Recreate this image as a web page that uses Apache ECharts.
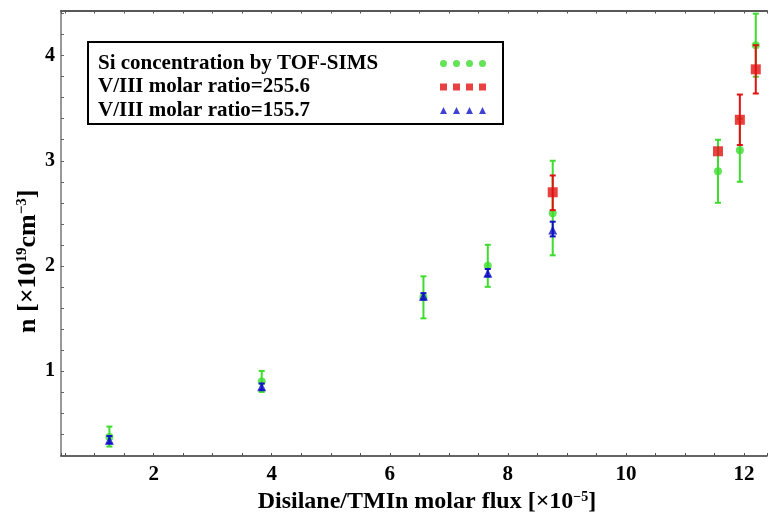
<!DOCTYPE html>
<html><head><meta charset="utf-8">
<script src="https://cdn.jsdelivr.net/npm/echarts@6/dist/echarts.min.js"></script>
<style>html,body{margin:0;padding:0;background:#fff}#c{width:770px;height:521px}</style>
</head><body><div id="c"></div>
<script>
const seriesNames = ['Si concentration by TOF-SIMS', 'V/III molar ratio=255.6', 'V/III molar ratio=155.7'];
// Si concentration by TOF-SIMS
const simsX  = [1.25, 3.83, 6.57, 7.66, 8.76, 11.56, 11.93, 12.20];
const simsY  = [0.37, 0.90, 1.70, 2.00, 2.50, 2.90, 3.10, 4.10];
const simsLo = [0.28, 0.80, 1.50, 1.80, 2.10, 2.60, 2.80, 3.80];
const simsHi = [0.47, 1.00, 1.90, 2.20, 3.00, 3.20, 3.40, 4.40];
// V/III = 255.6
const r256X  = [8.76, 11.56, 11.93, 12.20];
const r256Y  = [2.70, 3.09, 3.39, 3.87];
const r256Lo = [2.53, 3.09, 3.15, 3.64];
const r256Hi = [2.86, 3.09, 3.63, 4.10];
// V/III = 155.7
const r157X  = [1.25, 3.83, 6.57, 7.66, 8.76];
const r157Y  = [0.34, 0.85, 1.71, 1.93, 2.34];
const r157Lo = [0.31, 0.82, 1.68, 1.90, 2.28];
const r157Hi = [0.38, 0.88, 1.74, 1.97, 2.42];

const xMin = 0.43, xMax = 12.39;
const yMin = 0.19, yMax = 4.43;

const FONT = '"Liberation Serif", "Times New Roman", serif';
const cGreen = '#3ddc2e', cRed = '#e31212', cBlue = '#1212c8';

const zip2 = (xs, ys) => xs.map((x, i) => [x, ys[i]]);
const zip3 = (xs, lo, hi) => xs.map((x, i) => [x, lo[i], hi[i]]);

function errRender(color) {
  return function (params, api) {
    const x = api.value(0), lo = api.value(1), hi = api.value(2);
    const a = api.coord([x, lo]), b = api.coord([x, hi]);
    if (Math.abs(a[1] - b[1]) < 1) return null;
    const cw = 3, st = { stroke: color, lineWidth: 2 };
    return { type: 'group', children: [
      { type: 'line', shape: { x1: a[0], y1: a[1], x2: b[0], y2: b[1] }, style: st },
      { type: 'line', shape: { x1: a[0] - cw, y1: a[1], x2: a[0] + cw, y2: a[1] }, style: st },
      { type: 'line', shape: { x1: b[0] - cw, y1: b[1], x2: b[0] + cw, y2: b[1] }, style: st }
    ]};
  };
}

const iconCircles = 'path://M0,3.5A3.5,3.5,0,1,1,7,3.5A3.5,3.5,0,1,1,0,3.5Z M13,3.5A3.5,3.5,0,1,1,20,3.5A3.5,3.5,0,1,1,13,3.5Z M26,3.5A3.5,3.5,0,1,1,33,3.5A3.5,3.5,0,1,1,26,3.5Z M39,3.5A3.5,3.5,0,1,1,46,3.5A3.5,3.5,0,1,1,39,3.5Z';
const iconSquares = 'path://M0,0H7V7H0Z M13,0H20V7H13Z M26,0H33V7H26Z M39,0H46V7H39Z';
const iconTris = 'path://M3.5,0L7,7L0,7Z M16.5,0L20,7L13,7Z M29.5,0L33,7L26,7Z M42.5,0L46,7L39,7Z';

const chart = echarts.init(document.getElementById('c'));
chart.setOption({
  animation: false,
  backgroundColor: '#fff',
  grid: { left: 61, right: 0, top: 10.5, bottom: 65 },
  legend: {
    orient: 'vertical', left: 88, top: 42, align: 'right',
    data: [
      { name: seriesNames[0], icon: iconCircles },
      { name: seriesNames[1], icon: iconSquares },
      { name: seriesNames[2], icon: iconTris }
    ],
    itemWidth: 46, itemHeight: 7, itemGap: 2.5,
    padding: [11, 17, 3, 10],
    borderColor: '#000', borderWidth: 2,
    selectedMode: false,
    formatter: n => '{t|' + n + '}',
    textStyle: { rich: { t: { width: 337, align: 'left', fontFamily: FONT, fontWeight: 'bold', fontSize: 21, lineHeight: 21, color: '#000' } } }
  },
  xAxis: [{
    type: 'value', min: xMin, max: xMax, splitNumber: 24,
    position: 'bottom',
    name: 'Disilane/TMIn molar flux [×10{sup|−5}]',
    nameLocation: 'middle', nameGap: 23,
    nameTextStyle: { fontFamily: FONT, fontWeight: 'bold', fontSize: 24, color: '#000', padding: [0, 0, 0, 26],
      rich: { sup: { fontFamily: FONT, fontWeight: 'bold', fontSize: 14, verticalAlign: 'top', color: '#000' } } },
    axisLine: { lineStyle: { color: '#333', width: 1.5 } },
    axisTick: { inside: true, length: 3, lineStyle: { color: '#555' } },
    splitLine: { show: false },
    axisLabel: { margin: 8, fontFamily: FONT, fontWeight: 'bold', fontSize: 21, color: '#000',
      formatter: v => (Math.abs(v - Math.round(v)) < 1e-6 && Math.round(v) % 2 === 0 && v > 1) ? String(Math.round(v)) : '' }
  }, {
    type: 'value', min: xMin, max: xMax, splitNumber: 24,
    position: 'top',
    axisLine: { lineStyle: { color: '#222', width: 1.5 } },
    axisTick: { inside: true, length: 3, lineStyle: { color: '#555' } },
    splitLine: { show: false },
    axisLabel: { show: false }
  }],
  yAxis: {
    type: 'value', min: yMin, max: yMax, splitNumber: 21,
    name: 'n [×10{sup|19}cm{sup|−3}]',
    nameLocation: 'middle', nameGap: 20, nameRotate: 90, nameMoveOverlap: false,
    nameTextStyle: { fontFamily: FONT, fontWeight: 'bold', fontSize: 26, color: '#000', padding: [0, 56, 0, 0],
      rich: { sup: { fontFamily: FONT, fontWeight: 'bold', fontSize: 15, verticalAlign: 'top', color: '#000' } } },
    axisLine: { show: true, lineStyle: { color: '#777', width: 1.5 } },
    axisTick: { show: true, inside: true, length: 3, lineStyle: { color: '#666' } },
    splitLine: { show: false },
    axisLabel: { margin: 6, fontFamily: FONT, fontWeight: 'bold', fontSize: 20, color: '#000',
      formatter: v => (Math.abs(v - Math.round(v)) < 1e-6 && v > 0.5) ? String(Math.round(v)) : '' }
  },
  series: [
    { name: 'errSims', type: 'custom', renderItem: errRender(cGreen), data: zip3(simsX, simsLo, simsHi), z: 2 },
    { name: seriesNames[0], type: 'scatter', symbol: 'circle', symbolSize: 8, itemStyle: { color: cGreen }, data: zip2(simsX, simsY), z: 3 },
    { name: 'err256', type: 'custom', renderItem: errRender(cRed), data: zip3(r256X, r256Lo, r256Hi), z: 4 },
    { name: seriesNames[1], type: 'scatter', symbol: 'rect', symbolSize: 10, itemStyle: { color: cRed }, data: zip2(r256X, r256Y), z: 5 },
    { name: 'err157', type: 'custom', renderItem: errRender(cBlue), data: zip3(r157X, r157Lo, r157Hi), z: 6 },
    { name: seriesNames[2], type: 'scatter', symbol: 'triangle', symbolSize: 9, itemStyle: { color: cBlue }, data: zip2(r157X, r157Y), z: 7 }
  ]
});
</script>
</body></html>
